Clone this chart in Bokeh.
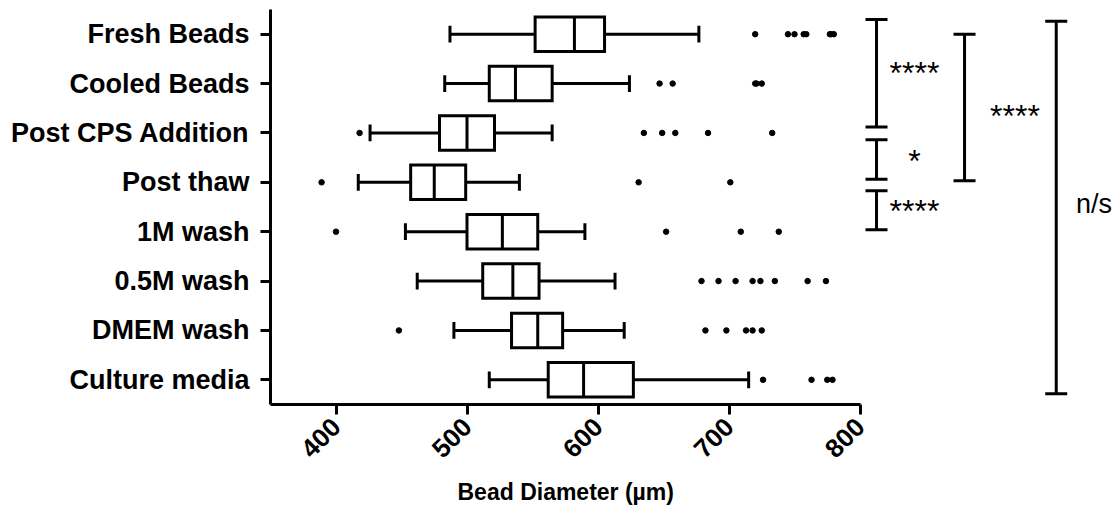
import math
from bokeh.plotting import figure
from bokeh.models import Range1d, FixedTicker, Title
from bokeh.embed import file_html
from bokeh.resources import INLINE
from bokeh.core.properties import value

# ---------------- data ----------------
categories = ["Fresh Beads", "Cooled Beads", "Post CPS Addition", "Post thaw",
              "1M wash", "0.5M wash", "DMEM wash", "Culture media"]
whisker_low = [487, 483, 426, 417, 453, 462, 490, 517]
q1 = [552, 517, 479, 457, 500, 512, 534, 562]
median = [582, 537, 500, 475, 527, 535, 554, 589]
q3 = [605, 565, 521, 499, 554, 555, 573, 627]
whisker_high = [677, 624, 565, 540, 590, 613, 620, 715]

outlier_cat = (["Fresh Beads"] * 8 + ["Cooled Beads"] * 5 + ["Post CPS Addition"] * 6 +
               ["Post thaw"] * 3 + ["1M wash"] * 4 + ["0.5M wash"] * 8 +
               ["DMEM wash"] * 6 + ["Culture media"] * 4)
outlier_val = [720, 745, 750, 757, 759, 777, 778, 780,
               647, 657, 720, 721, 725,
               418, 635, 649, 659, 684, 733,
               389, 631, 701,
               400, 652, 709, 738,
               679, 692, 705, 718, 724, 735, 760, 774,
               448, 682, 698, 713, 718, 725,
               726, 763, 775, 779]

x_ticks = [400, 500, 600, 700, 800]
x_title = "Bead Diameter (µm)"
sig_labels = ["****", "*", "****", "****", "n/s"]

# ---------------- figure ----------------
FONT = "Liberation Sans"
idx = list(range(len(categories)))
PX = 1.31  # pixels per µm
FRAME_W = 846

p = figure(frame_width=FRAME_W, frame_height=395,
           x_range=Range1d(350, 350 + FRAME_W / PX), y_range=Range1d(7.5, -0.5),
           min_border_left=270, min_border_right=0, min_border_top=9, min_border_bottom=10,
           output_backend="svg", toolbar_location=None)
p.outline_line_color = None
p.xgrid.visible = False
p.ygrid.visible = False
p.background_fill_color = "white"
p.border_fill_color = "white"

# x axis
xa = p.xaxis[0]
xa.bounds = (350, 800)
xa.ticker = FixedTicker(ticks=x_ticks)
xa.minor_tick_line_color = None
xa.axis_line_width = 3
xa.axis_line_color = "black"
xa.major_tick_line_width = 3
xa.major_tick_line_color = "black"
xa.major_tick_out = 10
xa.major_tick_in = 0
xa.major_label_orientation = math.pi / 4
xa.major_label_text_font = FONT
xa.major_label_text_font_style = "bold"
xa.major_label_text_font_size = "26px"
xa.major_label_text_color = "black"
xa.major_label_standoff = 8

# y axis
ya = p.yaxis[0]
ya.ticker = FixedTicker(ticks=idx)
ya.major_label_overrides = {i: c for i, c in enumerate(categories)}
ya.minor_tick_line_color = None
ya.axis_line_width = 3
ya.axis_line_color = "black"
ya.major_tick_line_width = 3
ya.major_tick_line_color = "black"
ya.major_tick_out = 10
ya.major_tick_in = 0
ya.major_label_text_font = FONT
ya.major_label_text_font_style = "bold"
ya.major_label_text_font_size = "27px"
ya.major_label_text_color = "black"
ya.major_label_standoff = 11

LW = 3
BOX_H = 0.7
CAP_H = 0.17

# whiskers
p.segment(x0=whisker_low, y0=idx, x1=q1, y1=idx, line_color="black", line_width=LW)
p.segment(x0=q3, y0=idx, x1=whisker_high, y1=idx, line_color="black", line_width=LW)
p.segment(x0=whisker_low, y0=[i - CAP_H for i in idx], x1=whisker_low,
          y1=[i + CAP_H for i in idx], line_color="black", line_width=LW)
p.segment(x0=whisker_high, y0=[i - CAP_H for i in idx], x1=whisker_high,
          y1=[i + CAP_H for i in idx], line_color="black", line_width=LW)
# boxes
p.hbar(y=idx, left=q1, right=q3, height=BOX_H, fill_color="white",
       line_color="black", line_width=LW, line_join="miter")
# medians
p.segment(x0=median, y0=[i - BOX_H / 2 for i in idx], x1=median,
          y1=[i + BOX_H / 2 for i in idx], line_color="black", line_width=LW)
# outliers
p.scatter(x=outlier_val, y=[categories.index(c) for c in outlier_cat],
          size=5.5, color="black")

# significance brackets (right of the axis range)
br_x = [812.6, 812.6, 812.6, 879.8, 949.8]
br_top = [-0.30, 2.14, 3.17, 0.0, -0.26]
br_bot = [1.88, 2.94, 3.96, 2.97, 7.28]
CAP_W = 8.4
p.segment(x0=br_x, y0=br_top, x1=br_x, y1=br_bot, line_color="black", line_width=LW)
p.segment(x0=[x - CAP_W for x in br_x], y0=br_top, x1=[x + CAP_W for x in br_x],
          y1=br_top, line_color="black", line_width=LW)
p.segment(x0=[x - CAP_W for x in br_x], y0=br_bot, x1=[x + CAP_W for x in br_x],
          y1=br_bot, line_color="black", line_width=LW)

lab_x = [841.6, 841.6, 841.6, 918.3]
lab_y = [0.78, 2.56, 3.59, 1.65]
p.text(x=lab_x, y=lab_y, text=sig_labels[:4], text_align="center",
       text_baseline="middle", text_font=value(FONT), text_font_size="32px",
       text_color="black")
p.text(x=[978.6], y=[3.43], text=sig_labels[4:], text_align="center",
       text_baseline="middle", text_font=value(FONT), text_font_size="27px",
       text_color="black")

# axis title centred under the 350-800 part of the axis
p.add_layout(Title(text=x_title, align="left", offset=187, standoff=16,
                   text_font=FONT, text_font_style="bold", text_font_size="23px",
                   text_color="black"), "below")

open("out.html", "w").write(file_html(p, INLINE))
